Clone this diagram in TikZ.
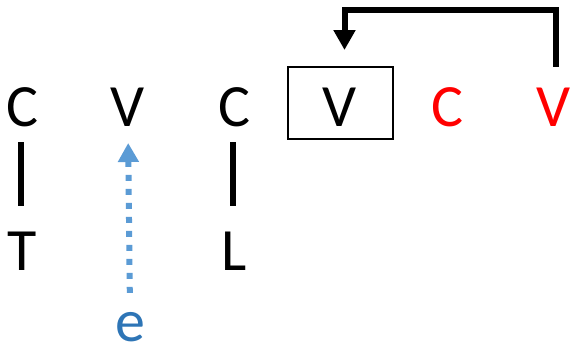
\documentclass[tikz,border=0pt]{standalone}
\usepackage{fontspec}
\setmainfont{Carlito}
\usetikzlibrary{arrows.meta}
\definecolor{lblue}{HTML}{5B9BD5}
\definecolor{dblue}{HTML}{2E75B6}
\begin{document}
\begin{tikzpicture}[x=1pt,y=-1pt,
  letter/.style={font=\fontsize{60}{60}\selectfont, inner sep=0pt, outer sep=0pt, anchor=base},
  bar/.style={line width=5.5pt},
  thick arrow/.style={line width=6pt, -{Triangle[width=21pt,length=20pt]}},
  dot arrow/.style={lblue, line width=6pt, dash pattern=on 6pt off 8pt, -{Triangle[width=20pt,length=19pt]}}]
\useasboundingbox (0,0) rectangle (570,349);
\node[letter] (c1) at (22,126) {C};
\node[letter] (v1) at (128,126) {V};
\node[letter] (c2) at (234,126) {C};
\node[letter] (v2) at (340,126) {V};
\node[letter, red] (c3) at (447,126) {C};
\node[letter, red] (v3) at (554,126) {V};
\node[draw, line width=2pt, minimum width=105pt, minimum height=72pt, inner sep=0pt, outer sep=1pt] (box) at (340.5,103) {};
\node[letter] (t) at (22,270) {T};
\node[letter] (l) at (234,270) {L};
\node[letter, dblue] (e) at (130,341) {e};
\coordinate (top) at (0,10);
\draw[bar, shorten <=16pt, shorten >=26pt] ([xshift=-1pt]c1.south) -- ([xshift=-1pt]t.north);
\draw[bar, shorten <=16pt, shorten >=26pt] ([xshift=-1pt]c2.south) -- ([xshift=-1pt]l.north);
\draw[dot arrow, shorten <=19pt, shorten >=17pt] (e.north) -- (v1.south);
\draw[thick arrow, line join=miter, shorten <=21pt, shorten >=16pt] ([xshift=2pt]v3.north) |- ([xshift=4pt]top -| box.north) -- ([xshift=4pt]box.north);
\end{tikzpicture}
\end{document}
